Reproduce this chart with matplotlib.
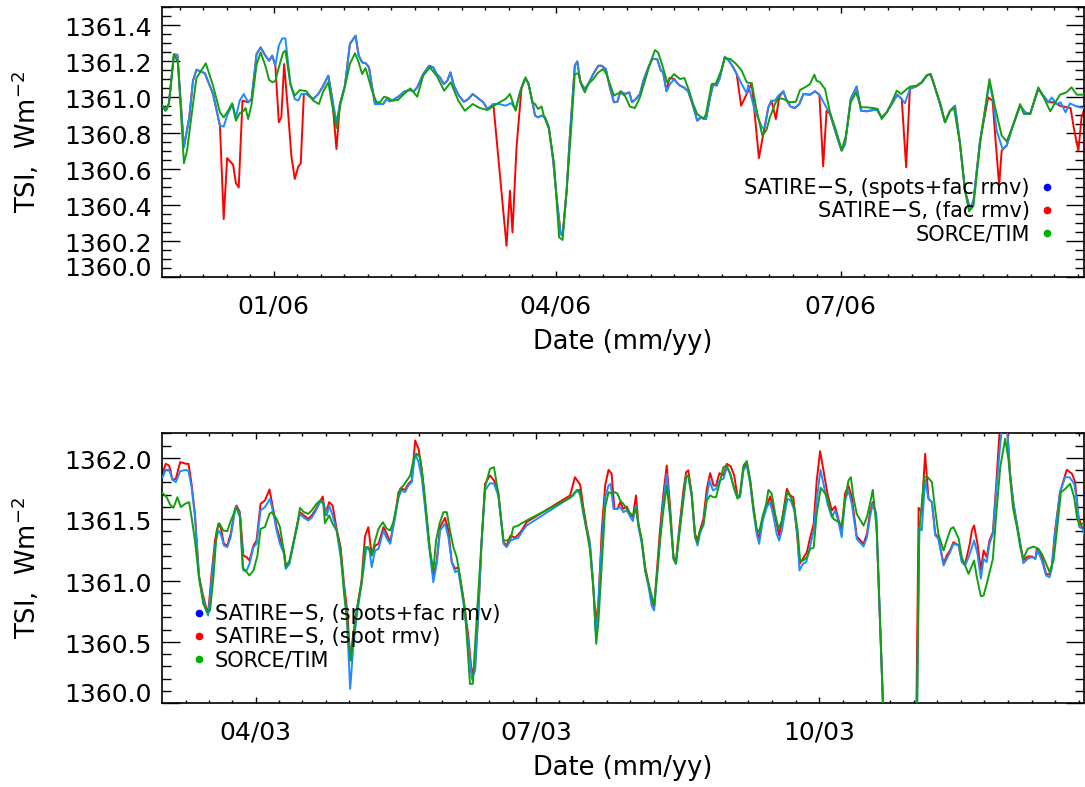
import numpy as np
import pandas as pd
import matplotlib
matplotlib.use("Agg")
import matplotlib.pyplot as plt
from matplotlib.lines import Line2D

# ---- top panel: days since 2006-01-01 ----
top_ref = pd.Timestamp("2006-01-01")
top_major = ["2006-01-01", "2006-04-01", "2006-07-01"]
top_xlim = (-35.6, 258.7)

top_sf = [  # SATIRE-S, spots+fac rmv
    (-35.6, 1360.950), (-34.6, 1360.922), (-33.5, 1360.963), (-31.9, 1361.233), (-30.8, 1361.233),
    (-28.7, 1360.719), (-27.0, 1360.885), (-25.8, 1361.089), (-24.7, 1361.150), (-22.0, 1361.130),
    (-19.4, 1361.015), (-17.2, 1360.839), (-16.0, 1360.834), (-14.9, 1360.895), (-13.2, 1360.959),
    (-12.1, 1360.885), (-10.9, 1360.978), (-9.6, 1361.015), (-8.2, 1360.969), (-7.1, 1360.987),
    (-5.5, 1361.237), (-4.2, 1361.274), (-2.7, 1361.228), (-1.5, 1361.200), (-0.5, 1361.228),
    (0.5, 1361.172), (1.6, 1361.284), (2.7, 1361.324), (3.7, 1361.324), (5.3, 1361.070),
    (6.7, 1360.987), (7.8, 1360.978), (8.8, 1361.015), (10.4, 1361.015), (12.6, 1360.987),
    (14.2, 1361.015), (15.8, 1361.061), (17.4, 1361.117), (18.6, 1360.996), (20.0, 1360.858),
    (21.1, 1360.959), (22.7, 1361.061), (24.3, 1361.293), (26.1, 1361.339), (27.1, 1361.228),
    (28.2, 1361.191), (29.4, 1361.185), (30.4, 1361.163), (31.4, 1361.052), (32.3, 1360.959),
    (33.9, 1360.959), (34.9, 1360.959), (36.0, 1360.987), (37.0, 1360.974), (38.6, 1360.987),
    (40.2, 1361.006), (41.8, 1361.030), (43.4, 1361.037), (44.7, 1361.030), (45.8, 1361.052),
    (47.7, 1361.126), (49.6, 1361.172), (50.9, 1361.163), (52.0, 1361.126), (53.0, 1361.108),
    (54.3, 1361.070), (55.4, 1361.089), (56.4, 1361.135), (57.5, 1361.061), (59.1, 1361.006),
    (60.7, 1360.972), (62.1, 1360.987), (63.5, 1361.015), (64.9, 1360.996), (66.9, 1360.969),
    (68.2, 1360.932), (70.1, 1360.959), (72.0, 1360.959), (74.1, 1360.950), (75.7, 1360.965),
    (77.2, 1360.932), (78.9, 1361.043), (80.2, 1361.098), (81.2, 1361.080), (82.5, 1360.978),
    (83.4, 1360.895), (84.4, 1360.885), (85.5, 1360.895), (86.6, 1360.885), (87.8, 1360.830),
    (89.2, 1360.645), (90.3, 1360.441), (91.6, 1360.237), (92.2, 1360.228), (93.5, 1360.478),
    (94.5, 1360.774), (96.1, 1361.172), (96.9, 1361.196), (97.9, 1361.080), (99.3, 1361.043),
    (100.4, 1361.070), (102.0, 1361.126), (103.6, 1361.172), (104.7, 1361.172), (106.0, 1361.154),
    (107.3, 1361.052), (108.6, 1360.969), (109.7, 1360.972), (110.7, 1361.030), (112.1, 1361.015),
    (113.5, 1361.024), (114.4, 1360.969), (115.6, 1360.987), (116.9, 1361.015), (118.0, 1361.089),
    (119.6, 1361.163), (120.8, 1361.209), (122.4, 1361.209), (123.6, 1361.145), (124.3, 1361.135),
    (125.4, 1361.030), (126.5, 1361.070), (127.9, 1361.098), (128.6, 1361.080), (129.7, 1361.061),
    (130.9, 1361.052), (132.3, 1361.030), (133.7, 1360.959), (135.2, 1360.867), (136.4, 1360.885),
    (138.0, 1360.876), (139.3, 1360.996), (140.3, 1361.070), (141.4, 1361.061), (142.4, 1361.104),
    (144.0, 1361.222), (145.3, 1361.200), (146.7, 1361.163), (147.8, 1361.126), (149.4, 1361.070),
    (151.0, 1361.019), (151.5, 1361.065), (153.6, 1360.922), (156.0, 1360.826), (156.8, 1360.830),
    (157.9, 1360.941), (158.9, 1360.978), (160.0, 1360.978), (161.1, 1361.006), (162.7, 1361.030),
    (163.8, 1360.978), (165.0, 1360.945), (166.4, 1360.937), (167.8, 1360.959), (169.1, 1361.015),
    (171.2, 1361.011), (172.8, 1361.030), (174.2, 1361.011), (176.0, 1360.955), (177.6, 1360.904),
    (179.7, 1360.784), (181.3, 1360.700), (182.4, 1360.737), (184.2, 1360.987), (186.1, 1361.056),
    (187.5, 1360.922), (189.3, 1360.919), (191.4, 1360.926), (192.6, 1360.926), (194.1, 1360.885),
    (195.7, 1360.913), (197.3, 1360.959), (199.1, 1361.011), (200.5, 1360.987), (201.5, 1360.963),
    (203.1, 1361.043), (205.2, 1361.058), (206.9, 1361.080), (208.5, 1361.117), (209.7, 1361.126),
    (211.1, 1361.052), (212.7, 1360.959), (214.3, 1360.858), (215.9, 1360.922), (217.5, 1360.950),
    (219.1, 1360.741), (220.7, 1360.478), (222.3, 1360.376), (223.4, 1360.422), (225.5, 1360.756),
    (228.5, 1361.080), (229.7, 1360.978), (230.8, 1360.811), (232.7, 1360.709), (234.0, 1360.728),
    (235.6, 1360.820), (238.3, 1360.950), (239.9, 1360.913), (241.5, 1360.904), (244.1, 1361.043),
    (245.7, 1361.006), (247.3, 1360.969), (248.4, 1360.996), (250.0, 1360.959), (251.2, 1360.969),
    (252.8, 1360.913), (254.2, 1360.963), (255.8, 1360.950), (257.4, 1360.941), (259.0, 1360.937),
]

top_fac = [  # SATIRE-S, fac rmv
    (-35.6, 1360.950), (-34.6, 1360.922), (-33.5, 1360.963), (-31.9, 1361.233), (-30.8, 1361.233),
    (-28.7, 1360.719), (-27.0, 1360.885), (-25.8, 1361.089), (-24.7, 1361.150), (-22.0, 1361.130),
    (-19.4, 1361.015), (-17.2, 1360.839), (-16.0, 1360.320), (-14.9, 1360.659), (-13.0, 1360.622),
    (-12.1, 1360.519), (-11.2, 1360.496), (-10.0, 1360.978), (-8.2, 1360.969), (-7.1, 1360.987),
    (-5.5, 1361.237), (-4.2, 1361.274), (-2.7, 1361.228), (-1.5, 1361.200), (-0.5, 1361.228),
    (0.5, 1361.172), (1.6, 1360.858), (2.4, 1360.885), (3.3, 1361.182), (4.6, 1360.904),
    (5.6, 1360.672), (6.7, 1360.543), (7.8, 1360.611), (8.6, 1360.630), (9.6, 1361.015),
    (10.4, 1361.015), (12.6, 1360.987), (14.2, 1361.015), (15.8, 1361.061), (17.4, 1361.117),
    (18.6, 1360.996), (20.0, 1360.709), (21.1, 1360.959), (22.7, 1361.061), (24.3, 1361.293),
    (26.1, 1361.339), (27.1, 1361.228), (28.2, 1361.191), (29.4, 1361.185), (30.4, 1361.163),
    (31.4, 1361.052), (32.3, 1360.959), (33.9, 1360.959), (34.9, 1360.959), (36.0, 1360.987),
    (37.0, 1360.974), (38.6, 1360.987), (40.2, 1361.006), (41.8, 1361.030), (43.4, 1361.037),
    (44.7, 1361.030), (45.8, 1361.052), (47.7, 1361.126), (49.6, 1361.172), (50.9, 1361.163),
    (52.0, 1361.126), (53.0, 1361.108), (54.3, 1361.070), (55.4, 1361.089), (56.4, 1361.135),
    (57.5, 1361.061), (59.1, 1361.006), (60.7, 1360.972), (62.1, 1360.987), (63.5, 1361.015),
    (64.9, 1360.996), (66.9, 1360.969), (68.2, 1360.932), (70.1, 1360.959), (74.3, 1360.172),
    (75.4, 1360.478), (76.2, 1360.246), (77.5, 1360.720), (79.1, 1361.052), (80.2, 1361.098),
    (81.2, 1361.080), (82.5, 1360.978), (83.4, 1360.895), (84.4, 1360.885), (85.5, 1360.895),
    (86.6, 1360.885), (87.8, 1360.830), (89.2, 1360.645), (90.3, 1360.441), (91.6, 1360.237),
    (92.2, 1360.228), (93.5, 1360.478), (94.5, 1360.774), (96.1, 1361.172), (96.9, 1361.196),
    (97.9, 1361.080), (99.3, 1361.043), (100.4, 1361.070), (102.0, 1361.126), (103.6, 1361.172),
    (104.7, 1361.172), (106.0, 1361.154), (107.3, 1361.052), (108.6, 1360.969), (109.7, 1360.972),
    (110.7, 1361.030), (112.1, 1361.015), (113.5, 1361.024), (114.4, 1360.969), (115.6, 1360.987),
    (116.9, 1361.015), (118.0, 1361.089), (119.6, 1361.163), (120.8, 1361.209), (122.4, 1361.209),
    (123.6, 1361.145), (124.3, 1361.135), (125.4, 1361.030), (126.3, 1361.104), (127.9, 1361.098),
    (128.6, 1361.080), (129.7, 1361.061), (130.9, 1361.052), (132.3, 1361.030), (133.7, 1360.959),
    (135.2, 1360.867), (136.4, 1360.885), (138.0, 1360.876), (139.3, 1360.996), (140.3, 1361.070),
    (141.4, 1361.061), (142.4, 1361.104), (144.0, 1361.222), (145.3, 1361.200), (146.7, 1361.163),
    (147.8, 1361.126), (149.2, 1360.950), (151.0, 1361.015), (152.6, 1361.075), (154.9, 1360.659),
    (156.1, 1360.774), (157.9, 1360.941), (158.9, 1360.978), (160.3, 1360.876), (161.4, 1361.000),
    (162.7, 1361.030), (163.8, 1360.978), (165.0, 1360.945), (166.4, 1360.937), (167.8, 1360.959),
    (169.1, 1361.015), (171.2, 1361.011), (172.8, 1361.030), (174.2, 1361.011), (175.4, 1360.613),
    (176.5, 1360.922), (177.6, 1360.904), (179.7, 1360.784), (181.3, 1360.700), (182.4, 1360.737),
    (184.2, 1360.987), (186.1, 1361.056), (187.5, 1360.922), (189.3, 1360.919), (191.4, 1360.926),
    (192.6, 1360.926), (194.1, 1360.885), (195.7, 1360.913), (197.3, 1360.959), (199.1, 1361.011),
    (200.5, 1360.987), (201.9, 1360.608), (203.1, 1361.043), (205.2, 1361.058), (206.9, 1361.080),
    (208.5, 1361.117), (209.7, 1361.126), (211.1, 1361.052), (212.7, 1360.959), (214.3, 1360.858),
    (215.9, 1360.922), (217.5, 1360.950), (219.1, 1360.741), (220.7, 1360.478), (222.3, 1360.376),
    (223.4, 1360.422), (225.5, 1360.756), (228.1, 1360.996), (229.5, 1360.978), (230.3, 1360.793),
    (231.6, 1360.506), (232.4, 1360.700), (234.0, 1360.728), (235.6, 1360.820), (238.3, 1360.950),
    (239.9, 1360.913), (241.5, 1360.904), (244.1, 1361.043), (245.7, 1361.006), (247.3, 1360.969),
    (248.9, 1360.969), (251.0, 1360.950), (253.1, 1360.941), (254.4, 1360.937), (255.5, 1360.820),
    (256.9, 1360.700), (257.9, 1360.885), (259.0, 1360.941),
]

top_tim = [  # SORCE/TIM
    (-35.6, 1360.950), (-34.3, 1360.926), (-33.5, 1360.959), (-31.9, 1361.237), (-30.6, 1361.191),
    (-28.7, 1360.630), (-27.7, 1360.700), (-25.8, 1360.959), (-24.7, 1361.104), (-21.7, 1361.185),
    (-19.4, 1361.061), (-17.2, 1360.913), (-16.0, 1360.885), (-14.6, 1360.922), (-13.3, 1360.963),
    (-12.1, 1360.867), (-10.9, 1360.908), (-9.6, 1360.922), (-9.0, 1360.937), (-8.2, 1360.876),
    (-7.1, 1360.959), (-5.5, 1361.178), (-4.2, 1361.246), (-2.7, 1361.172), (-1.5, 1361.093),
    (-0.4, 1361.080), (0.5, 1361.089), (1.6, 1361.163), (3.0, 1361.246), (3.7, 1361.256),
    (5.3, 1361.070), (6.7, 1361.006), (8.3, 1361.037), (10.4, 1361.030), (12.6, 1360.978),
    (14.4, 1360.959), (15.8, 1361.030), (17.4, 1361.080), (18.6, 1360.959), (20.0, 1360.826),
    (21.3, 1360.959), (22.7, 1361.056), (24.3, 1361.182), (25.9, 1361.241), (27.1, 1361.191),
    (28.2, 1361.126), (29.3, 1361.159), (30.3, 1361.098), (31.4, 1361.030), (32.8, 1360.969),
    (33.9, 1360.969), (35.2, 1361.000), (36.5, 1360.993), (37.8, 1360.978), (39.7, 1360.982),
    (41.3, 1361.011), (43.6, 1361.046), (45.8, 1361.000), (47.7, 1361.117), (49.8, 1361.163),
    (52.0, 1361.117), (54.4, 1361.033), (56.5, 1361.080), (58.9, 1360.978), (61.0, 1360.922),
    (63.5, 1360.959), (65.8, 1360.937), (68.2, 1360.926), (71.1, 1360.959), (74.0, 1360.987),
    (75.4, 1361.015), (77.2, 1360.922), (78.6, 1361.024), (80.4, 1361.108), (81.5, 1361.061),
    (82.5, 1360.969), (83.4, 1360.959), (84.4, 1360.932), (85.5, 1360.946), (86.2, 1360.895),
    (87.9, 1360.820), (89.5, 1360.626), (91.1, 1360.219), (92.2, 1360.204), (93.5, 1360.478),
    (94.9, 1360.811), (96.1, 1361.126), (97.2, 1361.130), (98.3, 1361.061), (99.3, 1361.024),
    (100.4, 1361.070), (102.0, 1361.098), (103.6, 1361.135), (105.2, 1361.154), (106.2, 1361.126),
    (108.6, 1361.006), (110.5, 1361.024), (112.1, 1361.006), (113.7, 1360.945), (115.3, 1360.937),
    (116.9, 1360.996), (118.5, 1361.089), (120.1, 1361.182), (121.7, 1361.259), (122.7, 1361.246),
    (124.1, 1361.172), (125.6, 1361.080), (127.8, 1361.126), (129.7, 1361.098), (131.1, 1361.104),
    (132.5, 1361.037), (133.9, 1360.959), (135.2, 1360.904), (137.2, 1360.876), (138.0, 1360.904),
    (139.8, 1361.070), (141.2, 1361.074), (143.0, 1361.154), (144.0, 1361.215), (145.8, 1361.209),
    (147.6, 1361.182), (149.4, 1361.145), (151.0, 1361.080), (152.6, 1361.074), (154.2, 1360.922),
    (156.0, 1360.784), (157.3, 1360.815), (158.4, 1360.885), (160.0, 1360.959), (161.1, 1360.993),
    (162.7, 1360.987), (164.8, 1360.969), (166.7, 1360.972), (168.0, 1361.037), (169.6, 1361.052),
    (171.2, 1361.070), (172.6, 1361.122), (173.3, 1361.089), (174.4, 1361.080), (176.0, 1361.043),
    (177.6, 1360.913), (179.7, 1360.802), (181.3, 1360.704), (182.7, 1360.784), (184.2, 1360.969),
    (185.9, 1361.024), (187.5, 1360.941), (189.3, 1360.941), (191.4, 1360.937), (192.8, 1360.932),
    (194.1, 1360.876), (195.7, 1360.913), (197.3, 1360.969), (198.9, 1361.033), (200.3, 1361.015),
    (201.5, 1361.033), (203.1, 1361.056), (205.2, 1361.061), (206.9, 1361.080), (208.5, 1361.120),
    (209.7, 1361.126), (211.1, 1361.052), (212.9, 1360.959), (214.3, 1360.858), (215.9, 1360.919),
    (217.2, 1360.937), (219.1, 1360.737), (220.7, 1360.478), (222.0, 1360.363), (223.4, 1360.394),
    (225.5, 1360.737), (228.5, 1361.098), (230.3, 1360.941), (232.4, 1360.784), (234.0, 1360.752),
    (235.6, 1360.820), (238.3, 1360.959), (239.5, 1360.904), (241.5, 1360.904), (244.1, 1361.052),
    (245.7, 1361.000), (247.9, 1360.919), (249.4, 1360.963), (251.0, 1361.011), (253.1, 1361.024),
    (254.7, 1361.052), (256.4, 1361.011), (259.0, 1361.011),
]

# ---- bottom panel: days since 2003-04-01 ----
bot_ref = pd.Timestamp("2003-04-01")
bot_major = ["2003-04-01", "2003-07-01", "2003-10-01"]
bot_xlim = (-30.3, 269.0)

bot_sf = [  # SATIRE-S, spots+fac rmv
    (-30.2, 1361.842), (-29.2, 1361.902), (-28.1, 1361.902), (-27.0, 1361.821), (-25.9, 1361.802),
    (-24.5, 1361.891), (-22.6, 1361.902), (-21.8, 1361.891), (-20.8, 1361.761), (-19.7, 1361.516),
    (-18.4, 1361.027), (-17.2, 1360.864), (-16.1, 1360.756), (-15.4, 1360.715), (-14.3, 1361.000),
    (-13.2, 1361.285), (-12.1, 1361.408), (-11.3, 1361.380), (-10.3, 1361.285), (-9.2, 1361.272),
    (-8.1, 1361.353), (-6.7, 1361.571), (-6.4, 1361.603), (-5.1, 1361.543), (-4.0, 1361.082),
    (-2.9, 1361.082), (-2.0, 1361.136), (-0.7, 1361.272), (0.3, 1361.299), (1.6, 1361.571),
    (3.0, 1361.598), (4.7, 1361.666), (5.8, 1361.543), (6.8, 1361.408), (7.9, 1361.299),
    (9.2, 1361.217), (9.8, 1361.095), (11.0, 1361.136), (12.3, 1361.299), (13.4, 1361.435),
    (14.4, 1361.543), (15.7, 1361.511), (17.1, 1361.489), (18.2, 1361.511), (19.3, 1361.557),
    (20.9, 1361.639), (22.0, 1361.639), (23.1, 1361.530), (23.9, 1361.611), (25.0, 1361.530),
    (26.3, 1361.408), (27.6, 1361.190), (28.7, 1360.946), (29.6, 1360.701), (30.7, 1360.117),
    (31.7, 1360.457), (32.8, 1360.701), (33.9, 1360.891), (35.0, 1361.082), (35.9, 1361.258),
    (36.9, 1361.258), (37.7, 1361.109), (38.8, 1361.245), (39.9, 1361.258), (41.5, 1361.408),
    (42.6, 1361.340), (43.7, 1361.299), (45.3, 1361.516), (46.4, 1361.679), (47.4, 1361.734),
    (48.5, 1361.720), (49.6, 1361.774), (50.7, 1361.802), (51.8, 1362.033), (52.9, 1361.965),
    (54.0, 1361.829), (55.0, 1361.598), (56.1, 1361.326), (57.7, 1360.986), (58.8, 1361.136),
    (59.9, 1361.408), (61.5, 1361.462), (62.6, 1361.353), (63.7, 1361.150), (64.8, 1361.068),
    (65.8, 1361.082), (67.5, 1360.810), (69.1, 1360.484), (70.2, 1360.198), (71.3, 1360.266),
    (72.3, 1360.728), (73.4, 1361.326), (74.5, 1361.734), (76.1, 1361.793), (77.4, 1361.788),
    (78.8, 1361.693), (80.5, 1361.299), (81.5, 1361.272), (82.8, 1361.326), (84.2, 1361.340),
    (85.3, 1361.348), (86.4, 1361.394), (88.0, 1361.448), (103.2, 1361.693), (104.3, 1361.739),
    (105.4, 1361.700), (106.4, 1361.543), (107.5, 1361.408), (108.6, 1361.299), (109.7, 1360.946),
    (110.4, 1360.592), (111.0, 1360.701), (112.1, 1361.190), (113.5, 1361.679), (114.6, 1361.774),
    (115.3, 1361.788), (116.2, 1361.584), (117.3, 1361.584), (118.4, 1361.598), (119.4, 1361.557),
    (120.5, 1361.571), (121.6, 1361.522), (122.5, 1361.484), (123.5, 1361.611), (124.3, 1361.435),
    (125.4, 1361.299), (126.5, 1361.082), (127.6, 1360.946), (128.6, 1360.796), (129.4, 1360.756),
    (130.3, 1361.027), (131.3, 1361.326), (132.4, 1361.652), (133.5, 1361.870), (134.6, 1361.543),
    (135.7, 1361.177), (136.5, 1361.136), (137.6, 1361.408), (138.9, 1361.679), (139.8, 1361.856),
    (140.5, 1361.848), (141.6, 1361.679), (142.7, 1361.353), (143.5, 1361.285), (144.3, 1361.380),
    (145.4, 1361.462), (146.5, 1361.679), (147.4, 1361.815), (148.5, 1361.734), (149.5, 1361.747),
    (150.6, 1361.815), (151.9, 1361.829), (153.0, 1361.924), (154.1, 1361.870), (155.4, 1361.747),
    (156.5, 1361.679), (157.3, 1361.679), (158.4, 1361.897), (159.5, 1361.937), (160.6, 1361.788),
    (161.6, 1361.571), (162.7, 1361.380), (163.5, 1361.299), (164.7, 1361.489), (166.0, 1361.598),
    (167.1, 1361.639), (168.2, 1361.516), (169.2, 1361.380), (170.0, 1361.326), (170.9, 1361.408),
    (171.6, 1361.516), (172.7, 1361.666), (173.8, 1361.652), (174.9, 1361.571), (176.0, 1361.353),
    (176.6, 1361.082), (177.7, 1361.136), (178.8, 1361.150), (180.1, 1361.285), (181.2, 1361.408),
    (182.2, 1361.652), (183.4, 1361.902), (184.4, 1361.788), (185.7, 1361.625), (187.1, 1361.516),
    (188.2, 1361.571), (189.3, 1361.475), (190.3, 1361.353), (191.4, 1361.652), (192.5, 1361.734),
    (193.6, 1361.625), (195.2, 1361.340), (197.4, 1361.277), (198.5, 1361.353), (199.6, 1361.530),
    (200.4, 1361.625), (201.5, 1361.543), (212.0, 1354.2), (215.5, 1361.435), (216.3, 1361.408),
    (217.4, 1361.820), (218.5, 1361.666), (219.6, 1361.639), (220.7, 1361.367), (221.7, 1361.340),
    (223.4, 1361.122), (224.4, 1361.177), (225.5, 1361.231), (226.6, 1361.299), (228.3, 1361.285),
    (229.3, 1361.150), (230.4, 1361.122), (231.9, 1361.217), (233.3, 1361.326), (234.4, 1361.217),
    (235.5, 1361.014), (236.4, 1361.177), (237.4, 1361.150), (238.3, 1361.299), (239.4, 1361.380),
    (240.5, 1361.734), (241.8, 1362.114), (242.6, 1362.300), (243.9, 1362.300), (245.0, 1361.842),
    (246.1, 1361.625), (247.2, 1361.462), (248.3, 1361.299), (249.3, 1361.141), (250.7, 1361.177),
    (252.1, 1361.190), (253.2, 1361.177), (253.9, 1361.245), (255.3, 1361.163), (256.7, 1361.041),
    (257.8, 1361.027), (258.5, 1361.095), (259.6, 1361.380), (261.2, 1361.720), (262.9, 1361.842),
    (264.3, 1361.842), (265.8, 1361.788), (266.7, 1361.652), (267.5, 1361.435), (268.6, 1361.421),
    (269.4, 1361.326),
]

bot_spot = [  # SATIRE-S, spot rmv
    (-30.2, 1361.875), (-29.2, 1361.951), (-28.1, 1361.937), (-27.0, 1361.821), (-25.9, 1361.829),
    (-24.5, 1361.965), (-22.6, 1361.951), (-21.8, 1361.951), (-20.8, 1361.788), (-19.7, 1361.543),
    (-18.4, 1361.041), (-17.2, 1360.891), (-16.1, 1360.783), (-15.4, 1360.734), (-14.3, 1361.054),
    (-13.2, 1361.326), (-12.1, 1361.462), (-11.3, 1361.429), (-10.3, 1361.299), (-9.2, 1361.285),
    (-8.1, 1361.380), (-6.7, 1361.584), (-6.2, 1361.611), (-5.1, 1361.557), (-4.0, 1361.204),
    (-2.9, 1361.190), (-2.0, 1361.163), (-0.7, 1361.285), (0.3, 1361.326), (1.6, 1361.625),
    (3.0, 1361.652), (4.5, 1361.742), (5.8, 1361.571), (6.8, 1361.435), (7.9, 1361.340),
    (9.2, 1361.245), (9.8, 1361.122), (11.0, 1361.150), (12.3, 1361.312), (13.4, 1361.448),
    (14.4, 1361.557), (15.7, 1361.530), (17.1, 1361.503), (18.2, 1361.530), (19.3, 1361.571),
    (20.9, 1361.644), (21.8, 1361.685), (22.5, 1361.530), (23.9, 1361.639), (25.0, 1361.611),
    (26.3, 1361.421), (27.6, 1361.272), (28.7, 1360.973), (29.8, 1360.742), (30.7, 1360.348),
    (31.7, 1360.565), (33.0, 1360.783), (34.4, 1361.000), (35.5, 1361.359), (36.6, 1361.435),
    (37.7, 1361.204), (38.8, 1361.285), (39.9, 1361.299), (41.5, 1361.435), (42.6, 1361.380),
    (43.7, 1361.312), (45.3, 1361.530), (46.4, 1361.720), (47.4, 1361.747), (48.5, 1361.739),
    (49.6, 1361.788), (50.7, 1361.815), (51.8, 1362.141), (52.9, 1362.073), (54.0, 1361.897),
    (55.0, 1361.639), (56.1, 1361.353), (57.7, 1361.027), (58.8, 1361.163), (59.9, 1361.435),
    (61.5, 1361.511), (62.6, 1361.408), (63.7, 1361.150), (64.8, 1361.095), (65.8, 1361.109),
    (67.5, 1360.851), (69.1, 1360.538), (70.2, 1360.239), (71.3, 1360.321), (72.3, 1360.728),
    (73.4, 1361.326), (74.5, 1361.788), (76.1, 1361.856), (77.4, 1361.815), (78.8, 1361.720),
    (80.5, 1361.312), (81.5, 1361.285), (82.8, 1361.367), (84.2, 1361.348), (85.3, 1361.375),
    (86.4, 1361.408), (88.0, 1361.476), (102.1, 1361.693), (103.7, 1361.842), (105.4, 1361.780),
    (106.4, 1361.598), (107.5, 1361.435), (108.4, 1361.326), (109.5, 1361.000), (110.4, 1360.674),
    (111.3, 1360.810), (112.4, 1361.408), (113.5, 1361.774), (114.6, 1361.902), (115.6, 1361.870),
    (116.5, 1361.584), (117.5, 1361.584), (118.4, 1361.639), (119.4, 1361.584), (120.5, 1361.603),
    (121.6, 1361.543), (122.5, 1361.516), (123.5, 1361.693), (124.3, 1361.462), (125.4, 1361.326),
    (126.5, 1361.109), (127.6, 1360.973), (128.6, 1360.837), (129.4, 1360.783), (130.3, 1361.082),
    (131.3, 1361.408), (132.4, 1361.707), (133.5, 1361.937), (134.6, 1361.598), (135.7, 1361.190),
    (136.5, 1361.163), (137.6, 1361.435), (138.9, 1361.734), (139.8, 1361.883), (140.5, 1361.897),
    (141.6, 1361.707), (142.7, 1361.380), (143.5, 1361.326), (144.3, 1361.408), (145.4, 1361.503),
    (146.5, 1361.747), (147.6, 1361.875), (148.7, 1361.774), (149.5, 1361.774), (150.6, 1361.875),
    (151.9, 1361.856), (153.0, 1361.951), (154.3, 1361.929), (155.4, 1361.856), (156.5, 1361.679),
    (157.3, 1361.693), (158.4, 1361.918), (159.5, 1361.956), (160.6, 1361.815), (161.6, 1361.611),
    (162.7, 1361.408), (163.5, 1361.340), (164.7, 1361.516), (166.0, 1361.611), (167.1, 1361.685),
    (168.2, 1361.571), (169.2, 1361.462), (170.0, 1361.367), (170.9, 1361.489), (172.5, 1361.747),
    (173.6, 1361.693), (174.6, 1361.679), (175.8, 1361.380), (176.6, 1361.136), (177.7, 1361.177),
    (179.0, 1361.231), (180.1, 1361.353), (181.2, 1361.462), (182.2, 1361.815), (183.3, 1362.054),
    (184.4, 1361.897), (185.7, 1361.707), (187.1, 1361.571), (188.2, 1361.603), (189.3, 1361.494),
    (190.3, 1361.408), (191.4, 1361.707), (192.5, 1361.774), (193.6, 1361.679), (195.2, 1361.359),
    (197.4, 1361.299), (198.5, 1361.380), (199.6, 1361.571), (200.4, 1361.639), (201.5, 1361.543),
    (212.0, 1354.2), (215.3, 1361.592), (216.3, 1361.557), (217.4, 1362.033), (218.5, 1361.666),
    (219.6, 1361.639), (220.7, 1361.380), (221.7, 1361.348), (223.4, 1361.136), (224.4, 1361.204),
    (225.5, 1361.245), (226.6, 1361.312), (228.3, 1361.285), (229.3, 1361.163), (230.4, 1361.136),
    (231.9, 1361.299), (232.6, 1361.408), (233.3, 1361.448), (234.4, 1361.299), (235.5, 1361.087),
    (236.4, 1361.245), (237.4, 1361.190), (238.3, 1361.326), (239.4, 1361.394), (240.5, 1361.788),
    (241.8, 1362.300), (243.9, 1362.300), (245.0, 1361.870), (246.1, 1361.625), (247.2, 1361.462),
    (248.3, 1361.299), (249.3, 1361.163), (250.7, 1361.196), (252.1, 1361.196), (253.2, 1361.177),
    (253.7, 1361.264), (255.3, 1361.190), (256.7, 1361.054), (257.8, 1361.049), (258.5, 1361.109),
    (259.6, 1361.408), (261.2, 1361.720), (263.4, 1361.902), (265.1, 1361.870), (266.1, 1361.802),
    (267.2, 1361.516), (268.3, 1361.435), (269.4, 1361.408),
]

bot_tim = [  # SORCE/TIM
    (-30.2, 1361.712), (-28.9, 1361.679), (-27.8, 1361.620), (-26.7, 1361.592), (-25.4, 1361.679),
    (-24.3, 1361.598), (-22.9, 1361.625), (-21.6, 1361.639), (-20.8, 1361.516), (-19.7, 1361.326),
    (-18.4, 1361.027), (-17.0, 1360.810), (-15.7, 1360.742), (-14.8, 1360.756), (-13.7, 1361.027),
    (-12.6, 1361.408), (-11.8, 1361.467), (-10.5, 1361.408), (-9.2, 1361.402), (-8.1, 1361.484),
    (-6.7, 1361.571), (-6.2, 1361.592), (-5.1, 1361.516), (-4.2, 1361.103), (-2.9, 1361.068),
    (-2.0, 1361.041), (-0.7, 1361.082), (0.6, 1361.204), (1.6, 1361.421), (3.0, 1361.435),
    (4.5, 1361.543), (5.2, 1361.557), (6.8, 1361.503), (7.9, 1361.435), (9.2, 1361.231),
    (9.8, 1361.109), (11.0, 1361.163), (12.3, 1361.312), (13.4, 1361.435), (14.4, 1361.592),
    (15.7, 1361.557), (17.1, 1361.543), (18.2, 1361.571), (19.6, 1361.620), (20.9, 1361.652),
    (22.0, 1361.625), (22.5, 1361.467), (23.9, 1361.530), (25.0, 1361.462), (26.3, 1361.408),
    (27.6, 1361.245), (28.7, 1360.891), (29.6, 1360.701), (30.9, 1360.348), (31.7, 1360.538),
    (33.0, 1360.783), (34.4, 1360.973), (35.5, 1361.272), (36.6, 1361.272), (37.7, 1361.204),
    (38.8, 1361.326), (39.9, 1361.421), (41.3, 1361.475), (42.6, 1361.421), (43.7, 1361.408),
    (44.7, 1361.475), (45.8, 1361.611), (46.9, 1361.747), (48.0, 1361.774), (49.1, 1361.815),
    (50.2, 1361.856), (51.2, 1361.978), (52.3, 1362.033), (53.4, 1362.005), (54.5, 1361.788),
    (55.6, 1361.516), (56.6, 1361.245), (57.7, 1361.082), (58.6, 1361.326), (59.7, 1361.462),
    (61.0, 1361.557), (62.1, 1361.557), (63.1, 1361.408), (64.2, 1361.272), (65.3, 1361.190),
    (66.4, 1361.027), (68.0, 1360.756), (69.6, 1360.158), (70.5, 1360.158), (71.8, 1360.701),
    (73.4, 1361.326), (74.5, 1361.761), (76.1, 1361.910), (77.4, 1361.924), (78.8, 1361.707),
    (80.5, 1361.326), (81.5, 1361.326), (82.8, 1361.340), (83.7, 1361.435), (85.3, 1361.448),
    (86.4, 1361.467), (88.0, 1361.489), (102.1, 1361.674), (103.7, 1361.720), (105.1, 1361.740),
    (106.4, 1361.571), (107.5, 1361.408), (108.6, 1361.245), (109.7, 1360.918), (110.6, 1360.484),
    (111.3, 1360.661), (112.4, 1361.136), (113.5, 1361.598), (114.6, 1361.720), (115.6, 1361.707),
    (116.7, 1361.720), (117.5, 1361.707), (118.4, 1361.652), (119.4, 1361.625), (120.5, 1361.584),
    (121.6, 1361.549), (122.5, 1361.530), (123.5, 1361.584), (124.3, 1361.462), (125.4, 1361.326),
    (126.5, 1361.082), (127.6, 1360.973), (128.6, 1360.878), (129.4, 1360.796), (130.5, 1361.082),
    (131.3, 1361.326), (132.4, 1361.571), (133.5, 1361.774), (134.6, 1361.516), (135.7, 1361.177),
    (136.5, 1361.136), (137.6, 1361.380), (138.9, 1361.652), (139.8, 1361.842), (140.5, 1361.856),
    (141.6, 1361.707), (142.7, 1361.353), (143.5, 1361.312), (144.3, 1361.408), (145.4, 1361.448),
    (146.5, 1361.652), (147.6, 1361.693), (148.7, 1361.679), (149.5, 1361.679), (150.6, 1361.788),
    (151.9, 1361.924), (153.0, 1361.937), (154.1, 1361.870), (155.4, 1361.747), (156.5, 1361.666),
    (157.3, 1361.707), (158.4, 1361.937), (159.5, 1361.973), (160.6, 1361.815), (161.6, 1361.598),
    (162.7, 1361.421), (163.5, 1361.394), (164.7, 1361.530), (165.8, 1361.625), (166.5, 1361.739),
    (167.6, 1361.707), (168.7, 1361.543), (169.8, 1361.421), (170.9, 1361.489), (172.0, 1361.639),
    (172.7, 1361.720), (173.8, 1361.679), (174.9, 1361.598), (176.0, 1361.408), (176.8, 1361.163),
    (177.9, 1361.163), (179.0, 1361.190), (180.1, 1361.258), (181.2, 1361.267), (182.2, 1361.543),
    (183.5, 1361.755), (184.6, 1361.720), (185.7, 1361.679), (186.6, 1361.571), (187.6, 1361.503),
    (189.3, 1361.475), (190.3, 1361.448), (191.4, 1361.652), (192.5, 1361.815), (193.3, 1361.842),
    (194.1, 1361.679), (195.2, 1361.543), (197.4, 1361.448), (198.5, 1361.516), (199.6, 1361.639),
    (200.4, 1361.739), (201.7, 1361.408), (212.0, 1354.2), (215.5, 1361.400), (217.1, 1361.842),
    (218.2, 1361.842), (219.6, 1361.802), (220.7, 1361.571), (221.7, 1361.380), (223.4, 1361.245),
    (224.4, 1361.326), (225.7, 1361.421), (226.6, 1361.435), (228.3, 1361.340), (229.3, 1361.190),
    (230.4, 1361.122), (231.5, 1361.054), (233.3, 1361.163), (234.2, 1361.027), (235.5, 1360.872),
    (236.4, 1360.878), (237.4, 1360.973), (239.4, 1361.177), (240.5, 1361.543), (241.8, 1361.924),
    (243.4, 1362.155), (244.5, 1361.978), (245.9, 1361.598), (247.2, 1361.435), (248.3, 1361.272),
    (249.3, 1361.177), (250.7, 1361.258), (252.6, 1361.277), (254.2, 1361.258), (255.3, 1361.217),
    (256.7, 1361.136), (257.8, 1361.068), (259.1, 1361.163), (260.2, 1361.408), (261.5, 1361.720),
    (262.9, 1361.747), (264.5, 1361.788), (265.8, 1361.679), (266.7, 1361.516), (267.5, 1361.448),
    (268.8, 1361.467), (269.4, 1361.408),
]

top_labels = ["SATIRE\u2212S, (spots+fac rmv)", "SATIRE\u2212S, (fac rmv)", "SORCE/TIM"]
bot_labels = ["SATIRE\u2212S, (spots+fac rmv)", "SATIRE\u2212S, (spot rmv)", "SORCE/TIM"]

C_SF, C_RM, C_TIM = "#1f8cff", "#ff0000", "#10a010"
DOT = ["#0000ff", "#ff0000", "#00b000"]
FS = 18      # tick labels
FS_LAB = 18.5  # axis titles


def minor_days(major, lo, hi):
    pts = []
    for a, b in zip(major[:-1], major[1:]):
        pts.extend(np.linspace(a, b, 13)[1:-1])
    s0 = (major[1] - major[0]) / 12.0
    s1 = (major[-1] - major[-2]) / 12.0
    k = 1
    while major[0] - k * s0 > lo:
        pts.append(major[0] - k * s0)
        k += 1
    k = 1
    while major[-1] + k * s1 < hi:
        pts.append(major[-1] + k * s1)
        k += 1
    return sorted(pts)


def setup(ax, ref, majors, xlim, ylim, ymaj, ymin):
    days = [(pd.Timestamp(d) - ref).days for d in majors]
    ax.set_xlim(*xlim)
    ax.set_ylim(*ylim)
    ax.set_xticks(days)
    ax.set_xticklabels([pd.Timestamp(d).strftime("%m/%y") for d in majors])
    ax.set_xticks(minor_days(days, *xlim), minor=True)
    ax.set_yticks(ymaj)
    ax.set_yticklabels([])
    ax.set_yticks(ymin, minor=True)
    ax.tick_params(axis="x", which="major", direction="in", length=4.5, width=1,
                   top=True, bottom=True, pad=12.5, labelsize=FS)
    ax.tick_params(axis="x", which="minor", direction="in", length=2.3, width=1,
                   top=True, bottom=True)
    ax.tick_params(axis="y", which="major", direction="in", length=13, width=1,
                   left=True, right=True)
    ax.tick_params(axis="y", which="minor", direction="in", length=6.5, width=1,
                   left=True, right=True)
    for s in ax.spines.values():
        s.set_linewidth(1.2)
    # y tick labels, IDL style (bottom one lifted off the axis)
    for v in ymaj:
        dy = 5.7 if v == ylim[0] else -3.1
        ax.annotate("%.1f" % v, xy=(0, v), xycoords=("axes fraction", "data"),
                    xytext=(-7.5, dy), textcoords="offset points",
                    ha="right", va="center", fontsize=FS)
    ax.text(0.5, -0.241, "Date (mm/yy)", transform=ax.transAxes,
            ha="center", va="center", fontsize=FS_LAB)
    ax.text(-0.148, 0.5, "TSI,  Wm$^{-2}$", transform=ax.transAxes, rotation=90,
            ha="center", va="center", fontsize=FS_LAB)


def draw(ax, sf, rm, tim):
    for data, c, z in ((rm, C_RM, 2), (sf, C_SF, 3), (tim, C_TIM, 4)):
        d = np.array(data)
        ax.plot(d[:, 0], d[:, 1], color=c, lw=1.4, zorder=z)


fig = plt.figure(figsize=(10.85, 7.87), dpi=100)
ax1 = fig.add_axes([0.1496, 0.6484, 0.8495, 0.3431])
ax2 = fig.add_axes([0.1496, 0.1064, 0.8495, 0.3431])

draw(ax1, top_sf, top_fac, top_tim)
setup(ax1, top_ref, top_major, top_xlim, (1360.0, 1361.5),
      [1360.0, 1360.2, 1360.4, 1360.6, 1360.8, 1361.0, 1361.2, 1361.4],
      np.arange(1360.05, 1361.5, 0.05))

draw(ax2, bot_sf, bot_spot, bot_tim)
setup(ax2, bot_ref, bot_major, bot_xlim, (1360.0, 1362.2),
      [1360.0, 1360.5, 1361.0, 1361.5, 1362.0],
      np.arange(1360.1, 1362.2, 0.1))

handles = [Line2D([], [], ls="none", marker="o", ms=4.5, color=c) for c in DOT]
ax1.legend(handles, top_labels, loc="center right", bbox_to_anchor=(0.966, 0.243),
           frameon=False, markerfirst=False, handlelength=0.5, handletextpad=0.6,
           labelspacing=0.15, borderpad=0, borderaxespad=0, fontsize=15)
ax2.legend(handles, bot_labels, loc="center left", bbox_to_anchor=(0.0344, 0.244),
           frameon=False, markerfirst=True, handlelength=0.5, handletextpad=0.5,
           labelspacing=0.15, borderpad=0, borderaxespad=0, fontsize=15)

fig.savefig("out.png", dpi=100)
